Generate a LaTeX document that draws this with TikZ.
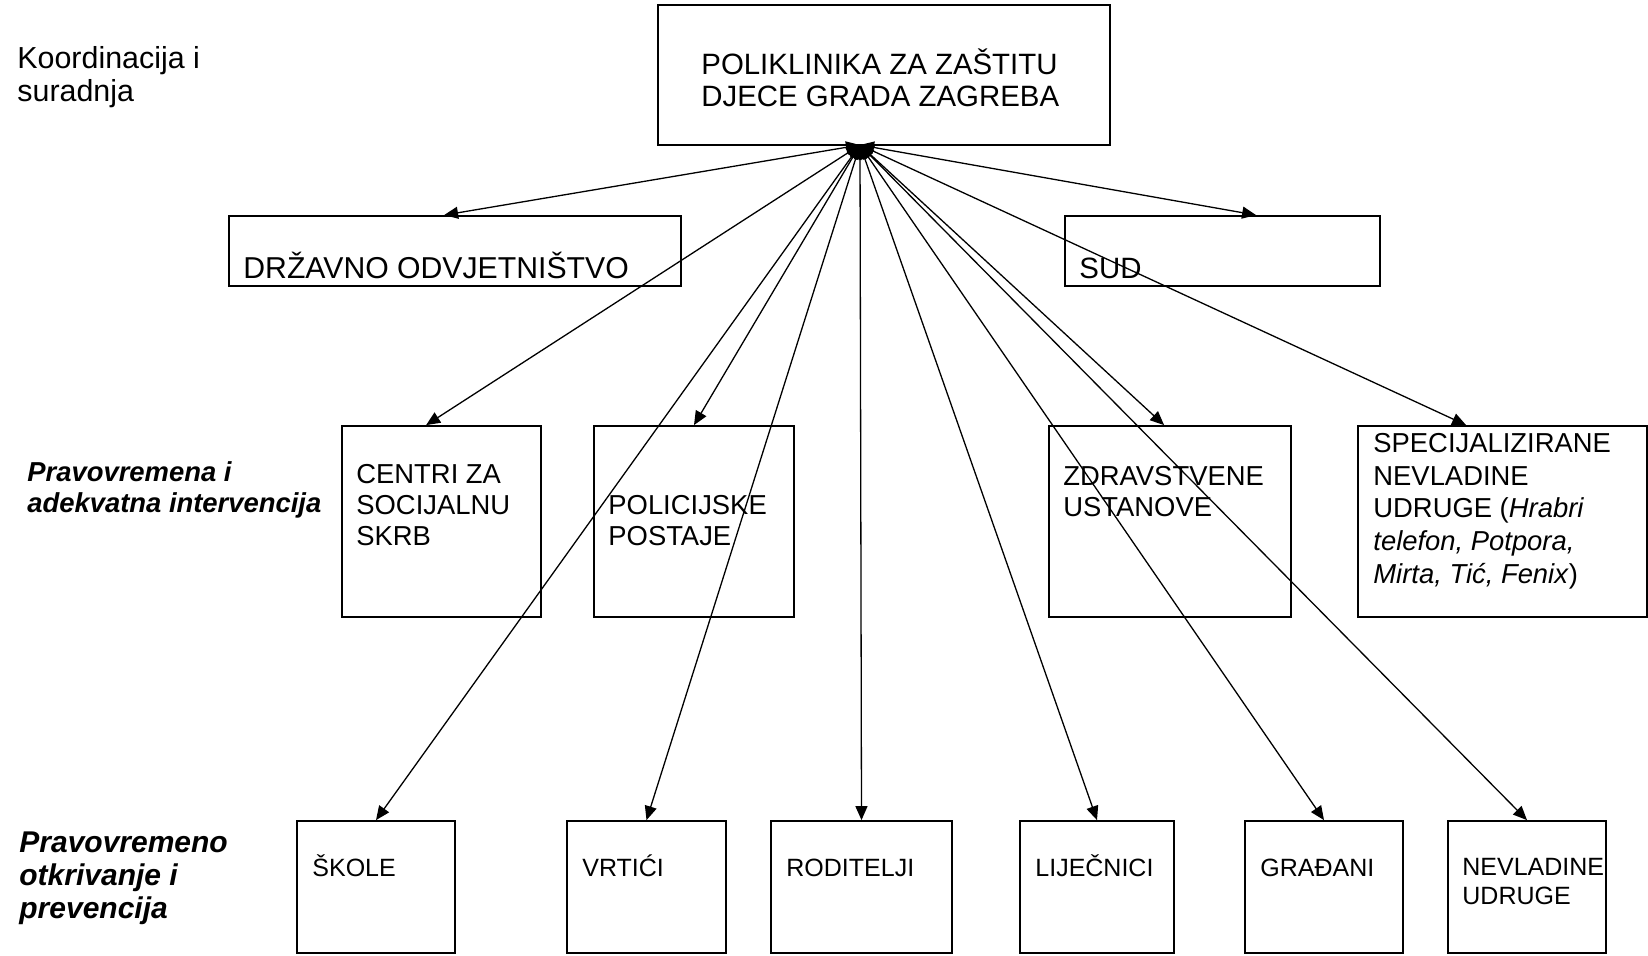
\documentclass[tikz,border=0pt]{standalone}
\usepackage{fontspec}
\setmainfont{Liberation Sans}
\usetikzlibrary{arrows.meta,fit,calc}

\begin{document}
\begin{tikzpicture}[x=0.5pt,y=-0.5pt,
  box/.style={draw,line width=0.9pt,inner sep=0pt},
  txt/.style={anchor=base west,inner sep=0pt,align=left,font=\fontsize{13.7}{15.5}\selectfont},
  big/.style={txt,font=\fontsize{14.7}{16}\selectfont},
  small/.style={txt,font=\fontsize{12.5}{14.2}\selectfont},
  lbl/.style={txt,font=\fontsize{13.7}{15.5}\selectfont\bfseries\itshape},
  arr/.style={line width=0.65pt,{Triangle[length=7pt,width=6pt]}-{Triangle[length=7pt,width=6pt]}}]
\useasboundingbox (0,0) rectangle (1648,955);
% levels (anchored at the last line)
\node[big,font=\fontsize{15.2}{16.2}\selectfont] (koord) at (17,101) {Koordinacija i\\suradnja};
\node[lbl] (interv) at (27,512) {Pravovremena i\\adekvatna intervencija};
\node[lbl,font=\fontsize{15}{16.5}\selectfont\bfseries\itshape] (prev) at (19,918) {Pravovremeno\\otkrivanje i\\prevencija};
% top
\node[box,fit={(658,5) (1110,145)}] (polik) {};
\node[big] (polik-t) at (701,106) {POLIKLINIKA ZA ZAŠTITU\\DJECE GRADA ZAGREBA};
\coordinate (hub) at (860,145);
% second row
\node[box,fit={(229,216) (681,286)}] (drzavno) {};
\node[big,font=\fontsize{15.1}{16}\selectfont] (drzavno-t) at (243,278) {DRŽAVNO ODVJETNIŠTVO};
\node[box,fit={(1065,216) (1380,286)}] (sud) {};
\node[big] (sud-t) at (1079,278) {SUD};
% intervention
\node[box,fit={(342,426) (541,617)}] (centri) {};
\node[txt] (centri-t) at (356,545) {CENTRI ZA\\SOCIJALNU\\SKRB};
\node[box,fit={(594,426) (794,617)}] (policija) {};
\node[txt] (policija-t) at (608,545) {POLICIJSKE\\POSTAJE};
\node[box,fit={(1049,426) (1291,617)}] (zdrav) {};
\node[txt] (zdrav-t) at (1063,516) {ZDRAVSTVENE\\USTANOVE};
\node[box,fit={(1358,426) (1647,617)}] (spec) {};
\node[txt,font=\fontsize{13.7}{16.3}\selectfont] (spec-t) at (1373,583) {SPECIJALIZIRANE\\NEVLADINE\\UDRUGE (\textit{Hrabri}\\\textit{telefon, Potpora,}\\\textit{Mirta, Tić, Fenix})};
% prevention
\node[box,fit={(297,821) (455,953)}] (skole) {};
\node[small] (skole-t) at (312,876) {ŠKOLE};
\node[box,fit={(567,821) (726,953)}] (vrtici) {};
\node[small] (vrtici-t) at (582,876) {VRTIĆI};
\node[box,fit={(771,821) (952,953)}] (roditelji) {};
\node[small] (roditelji-t) at (786,876) {RODITELJI};
\node[box,fit={(1020,821) (1174,953)}] (lijecnici) {};
\node[small] (lijecnici-t) at (1035,876) {LIJEČNICI};
\node[box,fit={(1245,821) (1403,953)}] (gradjani) {};
\node[small] (gradjani-t) at (1260,876) {GRAĐANI};
\node[box,fit={(1448,821) (1606,953)}] (nevladine) {};
\node[small] (nevladine-t) at (1462,904) {NEVLADINE\\UDRUGE};
% arrows
\draw[arr] (hub) -- ($(drzavno.north west)+(216,0)$);
\draw[arr] (hub) -- ($(sud.north west)+(192,0)$);
\draw[arr] (hub) -- ($(centri.north west)+(85,0)$);
\draw[arr] (hub) -- (policija.north);
\draw[arr] (hub) -- ($(zdrav.north west)+(116,0)$);
\draw[arr] (hub) -- ($(spec.north west)+(109,0)$);
\foreach \n in {skole,vrtici,roditelji,lijecnici,gradjani,nevladine}
  \draw[arr] (hub) -- (\n.north);
\end{tikzpicture}
\end{document}
